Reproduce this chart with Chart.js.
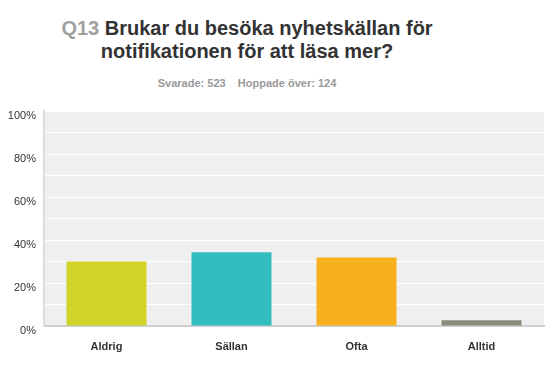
<!DOCTYPE html>
<html><head><meta charset="utf-8">
<script src="https://cdn.jsdelivr.net/npm/chart.js@4/dist/chart.umd.min.js"></script>
<style>
html,body{margin:0;padding:0;background:#fff;}
#wrap{position:relative;width:554px;height:374px;font-family:"Liberation Sans",Arial,sans-serif;}
#title{position:absolute;left:0;top:17px;width:494px;text-align:center;font-weight:bold;font-size:20px;line-height:23px;color:#333;}
#title .q{color:#a0a0a0;}
#sub{position:absolute;left:0;top:77px;width:494px;text-align:center;font-weight:bold;font-size:11px;color:#999;}
canvas{position:absolute;left:0;top:0;}
</style></head>
<body><div id="wrap">
<div id="title"><span class="q">Q13</span> Brukar du besöka nyhetskällan för<br>notifikationen för att läsa mer?</div>
<div id="sub">Svarade: 523&nbsp;&nbsp;&nbsp;&nbsp;Hoppade över: 124</div>
<canvas id="c" width="554" height="374"></canvas>
</div>
<script>
const categories = ["Aldrig", "Sällan", "Ofta", "Alltid"];
const values = [30.0, 34.3, 31.9, 2.7];
const barColors = ["#d0d42a", "#33bdbf", "#f7b11f", "#898a79"];
const yTickValues = [0, 20, 40, 60, 80, 100];

const bgPlugin = {
  id: 'bg',
  beforeDraw(chart) {
    const {ctx, chartArea: a} = chart;
    ctx.save();
    ctx.fillStyle = '#efefef';
    ctx.fillRect(a.left, a.top, a.right - a.left, a.bottom - a.top);
    ctx.restore();
  }
};

new Chart(document.getElementById('c'), {
  type: 'bar',
  data: {
    labels: categories,
    datasets: [{ data: values, backgroundColor: barColors, borderWidth: 0,
      barPercentage: 0.64, categoryPercentage: 1.0 }]
  },
  options: {
    responsive: false,
    animation: false,
    devicePixelRatio: 1,
    layout: { padding: { top: 111, right: 10, left: 0, bottom: 0 } },
    plugins: { legend: { display: false }, tooltip: { enabled: false } },
    scales: {
      x: {
        grid: { display: false },
        border: { color: '#cfcfcf', width: 2 },
        ticks: { color: '#333', font: { family: 'Liberation Sans', size: 11, weight: 'bold' }, padding: 6 },
        afterFit(s) { s.height = 48; }
      },
      y: {
        min: 0, max: 100,
        grid: { color: '#ffffff', lineWidth: 1, drawTicks: false },
        border: { color: '#dcdcdc', width: 2 },
        ticks: {
          stepSize: 10,
          color: '#333',
          font: { family: 'Liberation Sans', size: 11 },
          padding: 8,
          labelOffset: 5,
          callback: v => yTickValues.includes(v) ? v + '%' : ''
        },
        afterFit(s) { s.width = 44; }
      }
    }
  },
  plugins: [bgPlugin]
});
</script>
</body></html>
